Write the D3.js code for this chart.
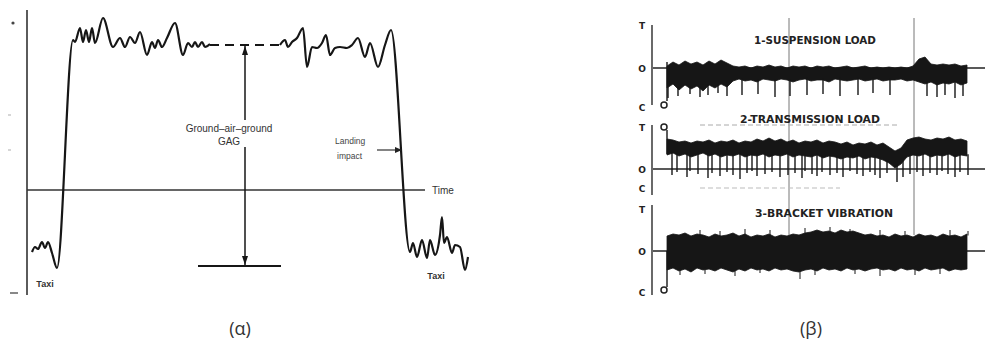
<!DOCTYPE html>
<html>
<head>
<meta charset="utf-8">
<script src="https://cdn.jsdelivr.net/npm/d3@7"></script>
<style>
  html, body { margin: 0; padding: 0; background: #fff; }
  svg { display: block; }
</style>
</head>
<body>
<svg id="chart" width="986" height="344"></svg>
<script>
// ---------- (α) ground-air-ground load cycle: [time, load] ----------
const cycleOut = [
  [5,-62],[8,-57],[11,-59],[15,-52],[18,-58],[21,-52],[25,-63],[30,-78],
  [46,150],[48,148],[53,162],[56,148],[59,160],[62,148],[65,162],[68,147],
  [76,172],[86,143],[93,152],[98,143],[103,153],[108,147],[113,158],[120,135],
  [125,148],[128,142],[131,150],[135,143],[140,152],[148,167],[156,135],[161,147],
  [165,143],[168,148],[171,143],[175,148],[178,143],[183,146]
];
const cycleIn = [
  [253,145],[258,150],[261,143],[265,148],[270,152],[276,162],[280,123],[285,143],
  [290,142],[295,147],[299,155],[303,135],[308,142],[313,143],[320,142],[325,145],
  [331,152],[338,133],[343,147],[351,123],[358,145],[364,160],
  [383,-62],[386,-53],[390,-67],[395,-50],[400,-68],[403,-50],[408,-65],[413,-45],
  [415,-27],[417,-53],[420,-47],[425,-63],[428,-55],[433,-57],[438,-80],[441,-67]
];
const gagSpan = [183, 253];      // time range of the mean flight level (dashed)
const gagLevel = 145;            // mean load in flight
const gagFloor = -76;            // mean load on ground
const gagTime = 218;             // where the GAG range is marked
const gagFloorSpan = [171, 254];
const landingImpact = [350, 375, 40]; // from-time, to-time, load

// ---------- (β) recorded channels ----------
const sampleT = [0,6,12,18,24,30,36,42,48,54,60,66,72,78,84,90,96,102,108,114,
  120,126,132,138,144,150,156,162,168,174,180,186,192,198,204,210,216,222,228,234,
  240,246,252,258,264,270,276,282,288,294,300];

// 1 - suspension load envelope
const suspUpper = [2,6,3,7,4,6,3,7,4,8, 5,2,1,2,0,2,1,3,1,2, 0,2,1,2,0,2,1,2,0,1,
  2,0,1,2,0,1,0,1,0,1, 0,2,9,11,4,3,4,3,4,2, 3];
const suspLower = [-20,-16,-22,-17,-21,-18,-23,-17,-20,-16, -19,-13,-11,-13,-12,-14,-11,-12,-13,-11,
  -12,-14,-12,-11,-13,-12,-12,-14,-11,-12, -13,-12,-11,-13,-12,-11,-13,-12,-12,-11,
  -13,-12,-14,-16,-14,-17,-15,-16,-14,-17, -15];
const suspSpikeT = [1,11,23,33,41,51,60,75,91,108,123,140,156,173,191,206,223,260,270,278,288,296];
const suspSpikeLoad = [-30,-28,-26,-29,-27,-25,-28,-27,-26,-29,-28,-27,-26,-28,-27,-25,-27,-28,-29,-27,-30,-28];

// 2 - transmission load envelope
const transUpper = [30,29,27,28,26,28,27,29,26,28, 27,29,26,28,27,30,28,31,28,30,
  27,29,26,28,27,29,26,28,27,25, 27,24,26,25,27,24,26,22,18,21,
  29,31,32,30,29,31,30,32,29,30, 28];
const transLower = [14,16,13,15,12,14,16,13,15,12, 14,13,15,12,14,13,15,12,14,13,
  15,12,14,13,12,14,11,13,12,10, 12,11,13,10,12,11,9,6,1,5,
  12,14,13,15,12,14,13,15,12,14, 13];
const transSpikeT = [5,10,20,23,31,41,45,53,60,66, 73,80,85,90,98,105,113,121,128,135,
  138,145,150,155,163,170,176,183,190,196, 203,208,213,220,230,236,243,250,256,263,
  270,275,281,288,293,301];
const transSpikeLoad = [-6,-3,-8,-2,-5,-9,-4,-7,-3,-6, -10,-4,-2,-7,-5,-3,-8,-6,-4,-9,
  -2,-5,-7,-3,-6,-4,-8,-2,-5,-7, -3,-6,-9,-4,-13,-8,-5,-3,-7,-4,
  -6,-2,-5,-8,-3,-6];

// 3 - bracket vibration envelope
const vibUpper = [15,17,16,18,15,17,16,14,17,15, 16,18,15,17,14,16,15,17,14,16,
  15,17,16,18,19,21,19,20,18,21, 19,20,18,16,17,15,16,14,17,15,
  16,14,17,15,16,14,17,15,16,14, 17];
const vibLower = [-19,-17,-20,-18,-21,-17,-19,-18,-20,-17, -19,-21,-18,-20,-17,-19,-18,-20,-17,-19,
  -18,-20,-21,-19,-18,-20,-17,-19,-18,-20, -17,-19,-18,-20,-18,-17,-19,-18,-20,-17,
  -19,-18,-20,-17,-19,-18,-17,-20,-18,-19, -18];
const vibSpikeT = [33,53,78,103,138,163,183,213,238,283,301, 13,38,68,93,133,148,188,213,248,273];
const vibSpikeLoad = [21,20,22,21,23,24,22,21,20,21,20, -24,-23,-25,-22,-28,-24,-23,-25,-24,-23];

const channelTitles = ["1-SUSPENSION LOAD", "2-TRANSMISSION LOAD", "3-BRACKET VIBRATION"];
const axisLetters = ["T", "O", "C"];
const captions = ["(α)", "(β)"];

// ---------- drawing ----------
const svg = d3.select("#chart");
const ink = "#161616";

// (α) scales: time left-to-right, load upward
const xA = d3.scaleLinear().domain([0, 440]).range([27, 467]);
const yA = d3.scaleLinear().domain([-105, 180]).range([295, 10]);
const gA = svg.append("g");

// axes
gA.append("line").attr("x1", xA(0)).attr("x2", xA(0)).attr("y1", yA(180)).attr("y2", yA(-105))
  .attr("stroke", "#333").attr("stroke-width", 1.6);
gA.append("line").attr("x1", xA(0)).attr("x2", xA(398)).attr("y1", yA(0)).attr("y2", yA(0))
  .attr("stroke", "#333").attr("stroke-width", 1.5);
gA.append("text").attr("x", xA(405)).attr("y", yA(0) + 4).text("Time")
  .attr("font-family", "Liberation Sans, Arial, sans-serif").attr("font-size", 10).attr("fill", "#333");

// sign marks beside the load axis
gA.append("circle").attr("cx", 13).attr("cy", yA(167)).attr("r", 1.6).attr("fill", "#444");
gA.append("line").attr("x1", 10).attr("x2", 18).attr("y1", yA(-103)).attr("y2", yA(-103))
  .attr("stroke", "#555").attr("stroke-width", 1.4);
[75, 40].forEach(v => gA.append("line").attr("x1", 8).attr("x2", 11).attr("y1", yA(v)).attr("y2", yA(v))
  .attr("stroke", "#bbb").attr("stroke-width", 1.2));

// load history
const lineA = d3.line().x(d => xA(d[0])).y(d => yA(d[1])).curve(d3.curveMonotoneX);
[cycleOut, cycleIn].forEach(seg => gA.append("path").attr("d", lineA(seg))
  .attr("fill", "none").attr("stroke", ink).attr("stroke-width", 2.2).attr("stroke-linejoin", "round"));
gA.append("line").attr("x1", xA(gagSpan[0])).attr("x2", xA(gagSpan[1]))
  .attr("y1", yA(gagLevel)).attr("y2", yA(gagLevel))
  .attr("stroke", ink).attr("stroke-width", 1.8).attr("stroke-dasharray", "9,6");

// GAG range arrow
gA.append("line").attr("x1", xA(gagTime)).attr("x2", xA(gagTime))
  .attr("y1", yA(gagLevel)).attr("y2", yA(gagFloor)).attr("stroke", ink).attr("stroke-width", 1.5);
gA.append("line").attr("x1", xA(gagFloorSpan[0])).attr("x2", xA(gagFloorSpan[1]))
  .attr("y1", yA(gagFloor)).attr("y2", yA(gagFloor)).attr("stroke", ink).attr("stroke-width", 1.8);
const ax = xA(gagTime);
gA.append("path").attr("d", `M${ax},${yA(gagLevel) + 1}l-3,9h6z`).attr("fill", ink);
gA.append("path").attr("d", `M${ax},${yA(gagFloor) - 1}l-3,-9h6z`).attr("fill", ink);

// GAG label on a white patch
gA.append("rect").attr("x", 180).attr("y", 120).attr("width", 98).attr("height", 27).attr("fill", "#fff");
const lab = gA.append("text").attr("font-family", "Liberation Sans, Arial, sans-serif")
  .attr("font-size", 10).attr("fill", "#333").attr("text-anchor", "middle");
lab.append("tspan").attr("x", 229).attr("y", 132).text("Ground–air–ground");
lab.append("tspan").attr("x", 229).attr("y", 145).text("GAG");

// landing impact
const li = gA.append("text").attr("font-family", "Liberation Sans, Arial, sans-serif")
  .attr("font-size", 8.5).attr("fill", "#444");
li.append("tspan").attr("x", 335).attr("y", 144).text("Landing");
li.append("tspan").attr("x", 337).attr("y", 159).text("impact");
gA.append("line").attr("x1", xA(landingImpact[0])).attr("x2", xA(landingImpact[1]) - 5)
  .attr("y1", yA(landingImpact[2])).attr("y2", yA(landingImpact[2])).attr("stroke", "#333").attr("stroke-width", 1.2);
gA.append("path").attr("d", `M${xA(landingImpact[1])},${yA(landingImpact[2])}l-7,-3v6z`).attr("fill", "#222");

// taxi labels
[[45, 287], [436, 279]].forEach(p => gA.append("text").attr("x", p[0]).attr("y", p[1])
  .attr("text-anchor", "middle").attr("font-family", "Liberation Sans, Arial, sans-serif")
  .attr("font-size", 9).attr("font-weight", "bold").attr("fill", "#333").text("Taxi"));

// (β) recorded channels
const xB = d3.scaleLinear().domain([-15, 318]).range([652, 985]);
const zeros = [68, 169, 251];
const yB = zeros.map(z => d3.scaleLinear().domain([-50, 50]).range([z + 50, z - 50]));
const gB = svg.append("g");

// time markers crossing all channels
[122, 247].forEach(t => gB.append("line").attr("x1", xB(t)).attr("x2", xB(t))
  .attr("y1", yB[0](50)).attr("y2", yB[2](16)).attr("stroke", "#777").attr("stroke-width", 1));
// faint guide lines around channel 2
gB.append("line").attr("x1", xB(33)).attr("x2", xB(233)).attr("y1", yB[1](44)).attr("y2", yB[1](44))
  .attr("stroke", "#aaa").attr("stroke-width", 1).attr("stroke-dasharray", "5,3");
gB.append("line").attr("x1", xB(33)).attr("x2", xB(173)).attr("y1", yB[1](-19)).attr("y2", yB[1](-19))
  .attr("stroke", "#bbb").attr("stroke-width", 1).attr("stroke-dasharray", "5,3");

const channels = [
  { up: suspUpper, lo: suspLower, st: suspSpikeT, sv: suspSpikeLoad,
    axis: [43, -37], letters: [43, 0, -39], start: -37, startLine: [6, -33] },
  { up: transUpper, lo: transLower, st: transSpikeT, sv: transSpikeLoad,
    axis: [44, -26], letters: [42, 0, -19], start: 42, startLine: [39, 15] },
  { up: vibUpper, lo: vibLower, st: vibSpikeT, sv: vibSpikeLoad,
    axis: [46, -44], letters: [42, 0, -41], start: -39, startLine: [0, -36] }
];

channels.forEach((c, i) => {
  const y = yB[i];
  const g = gB.append("g");
  // load axis and T/O/C letters
  g.append("line").attr("x1", xB(-15)).attr("x2", xB(-15)).attr("y1", y(c.axis[0])).attr("y2", y(c.axis[1]))
    .attr("stroke", "#444").attr("stroke-width", 1.6);
  axisLetters.forEach((L, k) => g.append("text").attr("x", 642).attr("y", y(c.letters[k]) + 3.5)
    .attr("text-anchor", "middle").attr("font-family", "DejaVu Sans, sans-serif")
    .attr("font-weight", "bold").attr("font-size", 9).attr("fill", "#222").text(L));
  // zero line
  g.append("line").attr("x1", xB(-14)).attr("x2", xB(318)).attr("y1", y(0)).attr("y2", y(0))
    .attr("stroke", "#222").attr("stroke-width", 1.5);
  // signal band
  const pts = sampleT.map((t, k) => [t, c.lo[k], c.up[k]]);
  g.append("path").attr("d", d3.area().x(d => xB(d[0])).y0(d => y(d[1])).y1(d => y(d[2]))(pts))
    .attr("fill", ink).attr("stroke", ink).attr("stroke-width", 0.8);
  // spikes leaving the band
  const upAt = d3.scaleLinear().domain(sampleT).range(c.up);
  const loAt = d3.scaleLinear().domain(sampleT).range(c.lo);
  c.st.forEach((t, k) => {
    const v = c.sv[k];
    const base = v < 0 ? loAt(t) + 2 : upAt(t) - 2;
    g.append("line").attr("x1", xB(t)).attr("x2", xB(t)).attr("y1", y(base)).attr("y2", y(v))
      .attr("stroke", ink).attr("stroke-width", i === 2 ? 1 : 1.4);
  });
  // start marker
  g.append("line").attr("x1", xB(0)).attr("x2", xB(0)).attr("y1", y(c.startLine[0])).attr("y2", y(c.startLine[1]))
    .attr("stroke", ink).attr("stroke-width", 1.4);
  g.append("circle").attr("cx", xB(-3)).attr("cy", y(c.start)).attr("r", 3)
    .attr("fill", "#fff").attr("stroke", "#222").attr("stroke-width", 1.5);
});

// channel titles
[[815, 40, 122], [810, 119, 140], [824, 213, 138]].forEach((p, i) => gB.append("text")
  .attr("x", p[0]).attr("y", p[1] + 4).attr("text-anchor", "middle")
  .attr("font-family", "DejaVu Sans Condensed, DejaVu Sans, sans-serif").attr("font-weight", "bold")
  .attr("font-size", 10).attr("fill", "#222")
  .attr("textLength", p[2]).attr("lengthAdjust", "spacingAndGlyphs").text(channelTitles[i]));

// panel captions
[240, 811].forEach((x, i) => svg.append("text").attr("x", x).attr("y", 335).attr("text-anchor", "middle")
  .attr("font-family", "Open Sans, sans-serif").attr("font-size", 18).attr("fill", "#333").text(captions[i]));
</script>
</body>
</html>
